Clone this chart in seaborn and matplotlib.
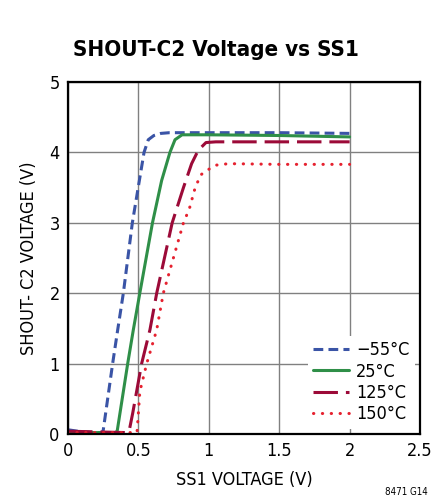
import matplotlib
matplotlib.use("Agg")
import matplotlib.pyplot as plt
import seaborn as sns
import pandas as pd

# values
ss1_m55 = [0, 0.1, 0.2, 0.24, 0.25, 0.317, 0.353, 0.393, 0.457, 0.54, 0.57, 0.61, 0.66, 0.72, 1.0, 1.5, 2.0]
v_m55 = [0.06, 0.03, 0.02, 0.02, 0.05, 1.0, 1.48, 2.0, 3.0, 4.0, 4.18, 4.24, 4.27, 4.28, 4.28, 4.28, 4.27]

ss1_25 = [0, 0.2, 0.34, 0.35, 0.424, 0.464, 0.51, 0.6, 0.665, 0.724, 0.76, 0.81, 1.0, 1.5, 2.0]
v_25 = [0.03, 0.02, 0.02, 0.05, 1.0, 1.48, 2.0, 3.0, 3.6, 4.0, 4.18, 4.25, 4.25, 4.24, 4.22]

ss1_125 = [0, 0.2, 0.42, 0.435, 0.46, 0.523, 0.582, 0.63, 0.74, 0.82, 0.878, 0.925, 0.98, 1.05, 1.5, 2.0]
v_125 = [0.04, 0.03, 0.02, 0.05, 0.3, 1.0, 1.48, 2.0, 3.0, 3.5, 3.84, 4.03, 4.14, 4.15, 4.15, 4.15]

ss1_150 = [0, 0.2, 0.49, 0.5, 0.51, 0.559, 0.63, 0.677, 0.82, 0.862, 0.902, 0.942, 1.0, 1.056, 1.14, 1.5, 2.0]
v_150 = [0.02, 0.02, 0.02, 0.3, 0.6, 1.0, 1.48, 2.0, 3.0, 3.2, 3.49, 3.68, 3.76, 3.82, 3.84, 3.83, 3.83]

labels = ["\u221255\u00b0C", "25\u00b0C", "125\u00b0C", "150\u00b0C"]
colors = ["#3a54a6", "#2f8f48", "#9c0a38", "#e6212f"]
dashes = [(3.2, 1.7), None, (8, 2.6), (0.1, 2.8)]

sns.set_style("white")
plt.rcParams['font.family'] = ['DejaVu Sans']
plt.rcParams['font.stretch'] = 'condensed'
plt.rcParams['text.color'] = 'black'
plt.rcParams['axes.labelcolor'] = 'black'

fig = plt.figure(figsize=(4.4, 4.98), dpi=100)
ax = fig.add_axes([68 / 440, 1 - 434 / 498, 352 / 440, 352 / 498])

series = [(ss1_m55, v_m55), (ss1_25, v_25), (ss1_125, v_125), (ss1_150, v_150)]
for (xs, ys), lab, col, dsh in zip(series, labels, colors, dashes):
    df = pd.DataFrame({"x": xs, "y": ys})
    sns.lineplot(data=df, x="x", y="y", ax=ax, color=col, label=lab,
                 estimator=None, sort=False, linewidth=2.2)
    l = ax.get_lines()[-1]
    if dsh is not None:
        l.set_dashes(dsh)
        if dsh[0] < 1:
            l.set_dash_capstyle("round")

ax.set_xlim(0, 2.5)
ax.set_ylim(0, 5)
ax.set_xticks([0, 0.5, 1, 1.5, 2, 2.5])
ax.set_xticklabels(["0", "0.5", "1", "1.5", "2", "2.5"])
ax.set_yticks([0, 1, 2, 3, 4, 5])
ax.grid(True, color="#808080", linewidth=1)
ax.tick_params(length=0, labelsize=13, pad=6, colors="black")
for sp in ax.spines.values():
    sp.set_color("black")
    sp.set_linewidth(1.6)

ax.set_xlabel("SS1 VOLTAGE (V)", fontsize=13, labelpad=8)
ax.set_ylabel("SHOUT- C2 VOLTAGE (V)", fontsize=13, labelpad=8)

leg = ax.legend(loc="lower right", fontsize=13, handlelength=2.0, handletextpad=0.35,
                labelspacing=0.18, borderaxespad=0.3, frameon=True, fancybox=False,
                framealpha=1, borderpad=0.3)
leg.get_frame().set_edgecolor("none")

fig.text(73 / 440, 1 - 50 / 498, "SHOUT-C2 Voltage vs SS1", fontsize=16,
         fontweight="bold", va="center", ha="left")
fig.text(428 / 440, 1 - 492 / 498, "8471 G14", fontsize=7, ha="right", va="center")

fig.savefig("out.png", dpi=100)
